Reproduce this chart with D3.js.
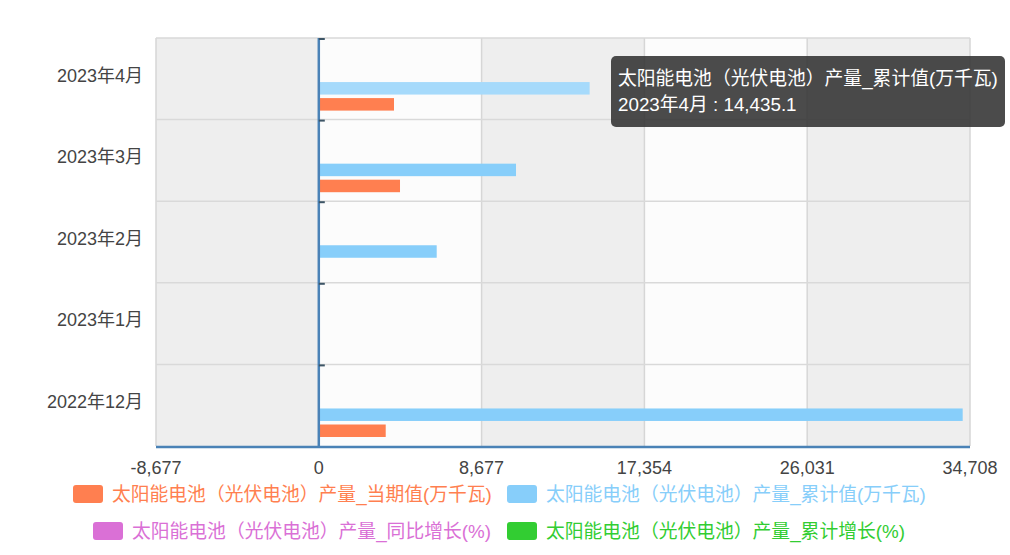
<!DOCTYPE html>
<html>
<head>
<meta charset="utf-8">
<script src="https://cdn.jsdelivr.net/npm/d3@7"></script>
<style>
  html, body { margin: 0; padding: 0; background: #ffffff; }
  svg { display: block; font-family: "Liberation Sans", Arial, "Noto Sans CJK SC", sans-serif; }
</style>
</head>
<body>
<svg id="chart" width="1010" height="555"></svg>
<script>
// ---- data ----
const categories = ["2023年4月", "2023年3月", "2023年2月", "2023年1月", "2022年12月"];
const seriesNames = [
  "太阳能电池（光伏电池）产量_当期值(万千瓦)",
  "太阳能电池（光伏电池）产量_累计值(万千瓦)",
  "太阳能电池（光伏电池）产量_同比增长(%)",
  "太阳能电池（光伏电池）产量_累计增长(%)"
];
const currentValues    = [4008, 4328, null, null, 3566];
const cumulativeValues = [14435.1, 10511, 6284, null, 34318];
const yoyGrowth        = [47.2, 55.6, null, null, 50.8];
const cumGrowth        = [49.6, 51.2, 50.3, null, 54.8];
const xTicks = [-8677, 0, 8677, 17354, 26031, 34708];
const seriesColors = ["#ff7f50", "#87cefa", "#da70d6", "#32cd32"];

const seriesValues = [currentValues, cumulativeValues, yoyGrowth, cumGrowth];

// ---- layout ----
const svg = d3.select("#chart");
const pLeft = 156, pRight = 970, pTop = 38, pBottom = 446;

const x = d3.scaleLinear().domain([xTicks[0], xTicks[xTicks.length - 1]]).range([pLeft, pRight]);
const y = d3.scaleBand().domain(categories).range([pTop, pBottom]).paddingInner(0).paddingOuter(0);
const bw = y.bandwidth();
const padBottom = 9, padTop = 12;
// series sub-band: bottom-up order 当期值, 累计值, 同比, 累计增长
const sub = d3.scaleBand().domain([3, 2, 1, 0]).range([padTop, bw - padBottom]).paddingInner(0.22).paddingOuter(0);

const g = svg.append("g");
for (let i = 0; i < xTicks.length - 1; i++) {
  g.append("rect")
    .attr("x", x(xTicks[i])).attr("y", pTop)
    .attr("width", x(xTicks[i + 1]) - x(xTicks[i])).attr("height", pBottom - pTop)
    .attr("fill", i % 2 === 0 ? "#eeeeee" : "#fcfcfc");
}
xTicks.forEach(t => {
  g.append("line").attr("x1", x(t)).attr("x2", x(t)).attr("y1", pTop).attr("y2", pBottom)
    .attr("stroke", "#d6d6d6").attr("stroke-width", 1.5);
});
categories.forEach(c => {
  g.append("line").attr("x1", pLeft).attr("x2", pRight).attr("y1", y(c)).attr("y2", y(c))
    .attr("stroke", "#d9d9d9").attr("stroke-width", 1.5);
});

seriesValues.forEach((vals, si) => {
  g.selectAll(null).data(categories.map((c, i) => ({ c, v: vals[i], i })).filter(d => d.v != null))
    .enter().append("rect")
    .attr("x", d => x(Math.min(0, d.v)))
    .attr("y", d => y(d.c) + sub(si))
    .attr("width", d => Math.max(1, Math.abs(x(d.v) - x(0))))
    .attr("height", sub.bandwidth())
    .attr("fill", d => (si === 1 && d.i === 0) ? "#a6dafb" : seriesColors[si]);
});

g.append("line").attr("x1", x(0)).attr("x2", x(0)).attr("y1", pTop).attr("y2", pBottom + 1)
  .attr("stroke", "#4a82b6").attr("stroke-width", 2.5);
categories.concat([null]).forEach(c => {
  const yy = c ? y(c) : pBottom;
  g.append("line").attr("x1", x(0)).attr("x2", x(0) + 6).attr("y1", yy + 1).attr("y2", yy + 1)
    .attr("stroke", "#3d5566").attr("stroke-width", 2);
});
g.append("line").attr("x1", pLeft).attr("x2", pRight).attr("y1", pBottom + 1).attr("y2", pBottom + 1)
  .attr("stroke", "#4a82b6").attr("stroke-width", 2.5);

const fmt = v => d3.format(",")(v).replace("\u2212", "-");
categories.forEach(c => {
  svg.append("text").attr("x", 143).attr("y", y(c) + bw / 2 - 2)
    .attr("text-anchor", "end").attr("dominant-baseline", "middle")
    .attr("font-size", 18).attr("fill", "#444").text(c);
});
xTicks.forEach(t => {
  svg.append("text").attr("x", x(t)).attr("y", 474)
    .attr("text-anchor", "middle").attr("font-size", 18).attr("fill", "#444").text(fmt(t));
});

const legendPos = [[73, 494], [507, 494], [93, 531], [507, 531]];
seriesNames.forEach((n, i) => {
  const [lx, ly] = legendPos[i];
  svg.append("rect").attr("x", lx).attr("y", ly - 9).attr("width", 30).attr("height", 18)
    .attr("rx", 3).attr("fill", seriesColors[i]);
  svg.append("text").attr("x", lx + 39).attr("y", ly).attr("dominant-baseline", "central")
    .attr("font-size", 18.8).attr("fill", seriesColors[i]).text(n);
});

const tip = svg.append("g");
tip.append("rect").attr("x", 611).attr("y", 56).attr("width", 394).attr("height", 71)
  .attr("rx", 5).attr("fill", "rgba(50,50,50,0.88)");
tip.append("text").attr("x", 618).attr("y", 85).attr("font-size", 18.8).attr("fill", "#fff")
  .text(seriesNames[1]);
tip.append("text").attr("x", 618).attr("y", 111).attr("font-size", 18.8).attr("fill", "#fff")
  .text(categories[0] + " : " + d3.format(",.1f")(cumulativeValues[0]));
</script>
</body>
</html>
